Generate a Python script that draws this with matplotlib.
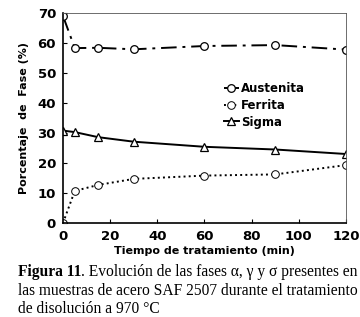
import matplotlib.pyplot as plt

tiempo = [0, 5, 15, 30, 60, 90, 120]
austenita = [69, 58.3, 58.4, 57.9, 59.0, 59.3, 57.8]
ferrita = [0, 10.7, 12.7, 14.7, 15.8, 16.2, 19.3]
sigma = [30.8, 30.3, 28.6, 27.1, 25.4, 24.5, 23.0]

W, H = 360, 317
fig = plt.figure(figsize=(W / 100, H / 100), dpi=100)
fig.patch.set_facecolor('white')
ax = fig.add_axes([63 / W, 1 - 223 / H, (346 - 63) / W, (223 - 13) / H])

ax.plot(tiempo, austenita, color='black', ls=(0, (8, 3, 1.5, 3)), lw=1.4,
        marker='o', ms=5.5, mfc='white', mec='black', mew=0.9, label='Austenita')
ax.plot(tiempo, ferrita, color='black', ls=':', lw=1.4,
        marker='o', ms=5.5, mfc='white', mec='black', mew=0.7, label='Ferrita')
ax.plot(tiempo, sigma, color='black', ls='-', lw=1.4,
        marker='^', ms=5.5, mfc='white', mec='black', mew=0.9, label='Sigma')

ax.set_xlim(0, 120)
ax.set_ylim(0, 70)
ax.set_xticks(range(0, 121, 20))
ax.set_yticks(range(0, 71, 10))
ax.tick_params(direction='in', length=3, labelsize=9.5, pad=5)
for lab in ax.get_xticklabels() + ax.get_yticklabels():
    lab.set_fontweight('bold')
for s in ['left', 'bottom']:
    ax.spines[s].set_linewidth(1.2)
for s in ['top', 'right']:
    ax.spines[s].set_linewidth(0.6)
    ax.spines[s].set_color('#555555')

ax.set_xlabel('Tiempo de tratamiento (min)', fontsize=8, fontweight='bold', labelpad=2)
ax.set_ylabel('Porcentaje  de  Fase (%)', fontsize=8, fontweight='bold', labelpad=6)

ax.legend(loc='upper left', bbox_to_anchor=(0.53, 0.72), frameon=False,
          handlelength=1.3, handletextpad=0.2, labelspacing=0.3,
          prop={'weight': 'bold', 'size': 8.5})

# pie de figura
serif = 'Liberation Serif'
fs = 11.2
x0 = 18 / W
y1 = 1 - 276 / H
t = fig.text(x0, y1, 'Figura 11', fontfamily=serif, fontsize=fs, fontweight='bold',
             va='baseline')
fig.canvas.draw()
bb = t.get_window_extent()
fig.text(bb.x1 / W, y1, '. Evolución de las fases α, γ y σ presentes en',
         fontfamily=serif, fontsize=fs, va='baseline')
fig.text(x0, 1 - 295 / H, 'las muestras de acero SAF 2507 durante el tratamiento',
         fontfamily=serif, fontsize=fs, va='baseline')
fig.text(x0, 1 - 313 / H, 'de disolución a 970 °C',
         fontfamily=serif, fontsize=fs, va='baseline')

fig.savefig('out.png', dpi=100, facecolor='white')
